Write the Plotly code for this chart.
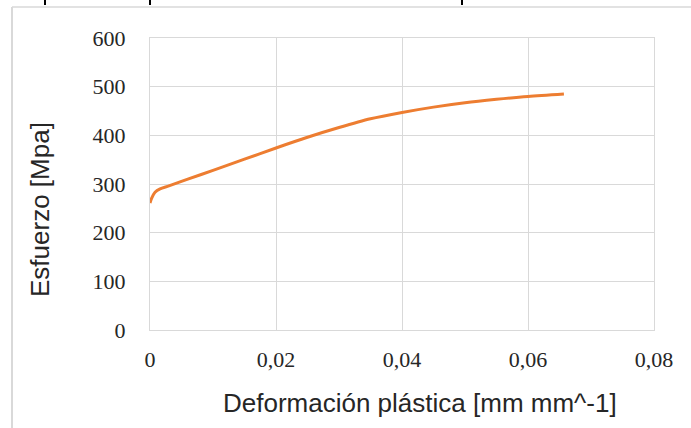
import plotly.graph_objects as go

# Data
strain = [0, 0.00027, 0.0008, 0.0016, 0.003, 0.006, 0.010, 0.015, 0.020, 0.025,
          0.030, 0.035, 0.040, 0.045, 0.050, 0.055, 0.060, 0.0657]
stress = [261, 271, 283, 290, 296, 310, 328, 351, 374, 396,
          416, 434, 447, 458, 467, 474, 480, 485]

x_ticks = [0, 0.02, 0.04, 0.06, 0.08]
y_ticks = [0, 100, 200, 300, 400, 500, 600]

W, H = 691, 428
L, R, T, B = 150, 654, 38, 330

def px(x):
    return (x - L) / (R - L)

def py(y):
    return (B - y) / (B - T)

fig = go.Figure()
fig.add_trace(go.Scatter(x=strain, y=stress, mode="lines",
                         line=dict(color="#ED7D31", width=3, shape="spline", smoothing=0.8),
                         showlegend=False, hoverinfo="skip"))

grid = "#d9d9d9"
fig.update_layout(
    width=W, height=H,
    margin=dict(l=L, r=W - R, t=T, b=H - B),
    paper_bgcolor="white", plot_bgcolor="white",
    separators=",.",
    xaxis=dict(range=[0, 0.08], tickvals=x_ticks, ticktext=["0", "0,02", "0,04", "0,06", "0,08"],
               showgrid=True, gridcolor=grid, gridwidth=1, zeroline=False,
               showline=True, linecolor=grid, linewidth=1, mirror=True,
               ticks="outside", ticklen=10, tickcolor="rgba(0,0,0,0)",
               tickfont=dict(family="Liberation Serif", size=22, color="#262626")),
    yaxis=dict(range=[0, 600], tickvals=y_ticks,
               showgrid=True, gridcolor=grid, gridwidth=1, zeroline=False,
               showline=True, linecolor=grid, linewidth=1, mirror=True,
               ticks="outside", ticklen=19, tickcolor="rgba(0,0,0,0)",
               tickfont=dict(family="Liberation Serif", size=22, color="#262626")),
    annotations=[
        dict(text="Deformación plástica [mm mm^-1]", x=px(420), y=py(403), xref="paper", yref="paper",
             showarrow=False, xanchor="center", yanchor="middle",
             font=dict(family="Liberation Sans", size=26, color="#262626")),
        dict(text="Esfuerzo [Mpa]", x=px(40), y=py(210), xref="paper", yref="paper",
             showarrow=False, xanchor="center", yanchor="middle", textangle=-90,
             font=dict(family="Liberation Sans", size=26, color="#262626")),
    ],
    shapes=[
        dict(type="line", xref="paper", yref="paper", x0=px(12), x1=px(12), y0=py(7), y1=py(428),
             line=dict(color="#d9d9d9", width=2)),
        dict(type="line", xref="paper", yref="paper", x0=px(12), x1=px(691), y0=py(7), y1=py(7),
             line=dict(color="#d9d9d9", width=1.5)),
        dict(type="line", xref="paper", yref="paper", x0=px(45), x1=px(45), y0=py(0), y1=py(5),
             line=dict(color="black", width=2)),
        dict(type="line", xref="paper", yref="paper", x0=px(150), x1=px(150), y0=py(0), y1=py(5),
             line=dict(color="black", width=2)),
        dict(type="line", xref="paper", yref="paper", x0=px(462), x1=px(462), y0=py(0), y1=py(5),
             line=dict(color="black", width=2)),
    ],
)

fig.write_html("out.html", config={"displayModeBar": False},
               post_script="document.body.style.margin='0';document.body.style.overflow='hidden';")
